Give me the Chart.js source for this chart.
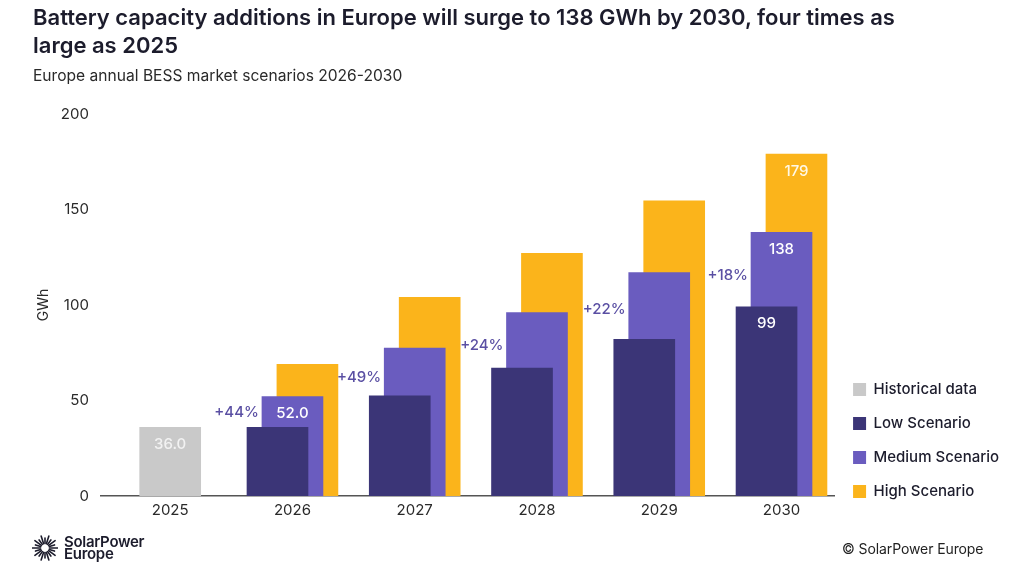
<!DOCTYPE html>
<html>
<head>
<meta charset="utf-8">
<script src="https://cdn.jsdelivr.net/npm/chart.js@4"></script>
<style>
  body { margin: 0; background: #fff; font-family: Inter, "Noto Sans", sans-serif; }
  #wrap { position: relative; width: 1024px; height: 568px; overflow: hidden; }
  #chart { position: absolute; left: 0; top: 0; }
  .title { position: absolute; left: 33px; top: 3px; width: 920px; font-size: 22px; font-weight: 600; line-height: 28px; color: #1c1c2c; }
  .subtitle { position: absolute; left: 33px; top: 66px; font-size: 15.6px; color: #2a2a2a; }
  .logo { position: absolute; left: 32px; top: 534px; display: flex; align-items: center; }
  .logo span { margin-left: 6px; font-size: 15px; font-weight: 600; line-height: 12.5px; color: #1c1c2c; letter-spacing: -0.3px; }
  .copy { position: absolute; left: 842px; top: 540px; font-size: 14px; color: #222; letter-spacing: -0.1px; }
</style>
</head>
<body>
<div id="wrap">
  <canvas id="chart" width="1024" height="568"></canvas>
  <div class="title">Battery capacity additions in Europe will surge to 138 GWh by 2030, four times as large as 2025</div>
  <div class="subtitle">Europe annual BESS market scenarios 2026-2030</div>
  <div class="logo">
    <svg id="sun" width="26" height="28" viewBox="-13 -14 26 28"></svg>
    <span>SolarPower<br>Europe</span>
  </div>
  <div class="copy">© SolarPower Europe</div>
</div>
<script>
// data (GWh)
const years = ['2025', '2026', '2027', '2028', '2029', '2030'];
const historical = [36, null, null, null, null, null];
const lowScenario = [null, 36, 52.5, 67, 82, 99];
const mediumScenario = [null, 52, 77.5, 96, 117, 138];
const highScenario = [null, 69, 104, 127, 154.5, 179];

// labels printed inside the bars
const historicalLabels = ['36.0', '', '', '', '', ''];
const lowLabels = ['', '', '', '', '', '99'];
const mediumLabels = ['', '52.0', '', '', '', '138'];
const highLabels = ['', '', '', '', '', '179'];

// growth of the medium scenario, and the GWh level it is written at
const growthLabels = ['', '+44%', '+49%', '+24%', '+22%', '+18%'];
const growthLevel = [null, 43.5, 62.3, 79, 97.4, 115.2];

const yTicks = [0, 50, 100, 150, 200];

const colors = {
    historical: '#c9c9c9',
    low: '#3b3577',
    medium: '#6a5cbf',
    high: '#fbb41b'
};

// sun logo rays
(function () {
    let svg = document.getElementById('sun');
    let out = '';
    for (let k = 0; k < 20; k++) {
        let a = k / 20 * Math.PI * 2;
        let r1 = 4.5, r2 = (k % 2 === 0) ? 12.5 : 10;
        out += '<line x1="' + (Math.cos(a) * r1).toFixed(2) + '" y1="' + (Math.sin(a) * r1).toFixed(2) +
               '" x2="' + (Math.cos(a) * r2).toFixed(2) + '" y2="' + (Math.sin(a) * r2).toFixed(2) +
               '" stroke="#1c1c2c" stroke-width="1.6" stroke-linecap="round"/>';
    }
    svg.innerHTML = out;
})();

const offset = 0.1224;   // sideways shift of low / high bars

function points(values, shift) {
    return values.map((v, i) => ({ x: i + shift, y: v }));
}

const barLabels = {
    id: 'barLabels',
    afterLayout(chart) {
        // lift the legend column a little above the axis line
        chart.legend.bottom -= 6;
    },
    afterDatasetsDraw(chart) {
        const ctx = chart.ctx;
        ctx.save();
        ctx.font = '500 15px Inter, "Noto Sans", sans-serif';
        ctx.textAlign = 'center';
        ctx.textBaseline = 'middle';
        const sets = [historicalLabels, lowLabels, mediumLabels, highLabels];
        const textColors = ['#f2f2f2', '#ffffff', '#ffffff', '#fff8e6'];
        sets.forEach((labels, d) => {
            const meta = chart.getDatasetMeta(d);
            labels.forEach((txt, i) => {
                if (!txt) return;
                const bar = meta.data[i];
                ctx.fillStyle = textColors[d];
                ctx.fillText(txt, bar.x, bar.y + 17);
            });
        });

        const med = chart.getDatasetMeta(2);
        ctx.textAlign = 'right';
        ctx.fillStyle = '#5a4fa3';
        growthLabels.forEach((txt, i) => {
            if (!txt) return;
            const bar = med.data[i];
            ctx.fillText(txt, bar.x - bar.width / 2 - 3, chart.scales.y.getPixelForValue(growthLevel[i]));
        });
        ctx.restore();
    }
};

new Chart(document.getElementById('chart'), {
    type: 'bar',
    data: {
        datasets: [
            { label: 'Historical data', data: points(historical, 0), backgroundColor: colors.historical },
            { label: 'Low Scenario', data: points(lowScenario, -offset), backgroundColor: colors.low },
            { label: 'Medium Scenario', data: points(mediumScenario, 0), backgroundColor: colors.medium },
            { label: 'High Scenario', data: points(highScenario, offset), backgroundColor: colors.high }
        ]
    },
    options: {
        responsive: false,
        animation: false,
        grouped: false,
        barThickness: 61,
        layout: { padding: { top: 114, left: 35, right: 15, bottom: 44 } },
        plugins: {
            tooltip: { enabled: false },
            legend: {
                position: 'right',
                align: 'end',
                labels: {
                    boxWidth: 13,
                    boxHeight: 13,
                    padding: 19,
                    color: '#1c1c2c',
                    font: { family: 'Inter', size: 15, weight: 500 }
                }
            }
        },
        scales: {
            x: {
                type: 'linear',
                offset: false,
                min: -0.567,
                max: 5.43,
                grid: { display: false, drawTicks: false, tickLength: 0 },
                border: { display: true, color: '#555', width: 1.5 },
                afterBuildTicks: axis => { axis.ticks = years.map((y, i) => ({ value: i })); },
                ticks: {
                    padding: 5,
                    color: '#2a2a2a',
                    font: { family: 'Inter', size: 15 },
                    callback: v => years[v]
                }
            },
            y: {
                min: 0,
                max: 200,
                grid: { display: false, drawTicks: false, tickLength: 0 },
                border: { display: false },
                afterBuildTicks: axis => { axis.ticks = yTicks.map(v => ({ value: v })); },
                ticks: {
                    padding: 12,
                    color: '#2a2a2a',
                    font: { family: 'Inter', size: 15 }
                },
                title: {
                    display: true,
                    text: 'GWh',
                    color: '#2a2a2a',
                    font: { family: 'Inter', size: 14 },
                    padding: { top: 0, bottom: -3 }
                }
            }
        }
    },
    plugins: [barLabels]
});
</script>
</body>
</html>
